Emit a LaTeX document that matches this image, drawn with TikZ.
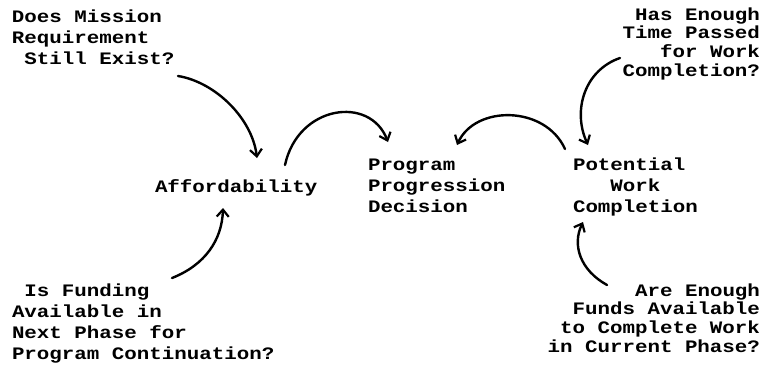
\documentclass[tikz,border=0pt]{standalone}
\usepackage{fontspec}
\newfontfamily\dotfont{Liberation Mono}[FakeStretch=1.19]
\usetikzlibrary{arrows.meta}
\tikzset{
  lbl/.style={inner sep=0pt, outer sep=0pt, font=\dotfont\bfseries\fontsize{17.5}{21}\selectfont},
  lblr/.style={lbl, font=\dotfont\bfseries\fontsize{17.5}{18.6}\selectfont},
  flow/.style={line width=2.4pt, line cap=round, -{Straight Barb[length=7pt,width=12pt,line width=2.2pt]}}
}
\begin{document}
\begin{tikzpicture}[x=1pt,y=-1pt]
\useasboundingbox (0,0) rectangle (768,368);
% questions (base = last line)
\node[lbl, anchor=base west, align=left] (q1) at (12,64) {Does Mission\\Requirement\\~Still Exist?};
\node[lblr, anchor=base east, align=right] (q2) at (760,76) {Has Enough\\Time Passed\\for Work\\Completion?};
\node[lbl, anchor=base west, align=left] (q3) at (12,359) {~Is Funding\\Available in\\Next Phase for\\Program Continuation?};
\node[lblr, anchor=base east, align=right] (q4) at (760,352) {Are Enough\\Funds Available\\to Complete Work\\in Current Phase?};
% main nodes
\node[lbl, anchor=base west] (aff) at (155,192) {Affordability};
\node[lbl, anchor=base west, align=left] (ppd) at (368,212) {Program\\Progression\\Decision};
\node[lbl, anchor=base west, align=left] (pwc) at (573,212) {Potential\\~~~Work\\Completion};
% connector end points
\coordinate (a1s) at (178,76);  \coordinate (a1e) at (257,158);
\coordinate (a2s) at (285,165); \coordinate (a2e) at (388,142);
\coordinate (a3s) at (565,149); \coordinate (a3e) at (457,145);
\coordinate (a4s) at (620,58);  \coordinate (a4e) at (588,145);
\coordinate (a5s) at (172,278); \coordinate (a5e) at (223,208);
\coordinate (a6s) at (607,285); \coordinate (a6e) at (583,222);
% connectors
\draw[flow] (a1s) .. controls (215,82) and (252,118) .. (a1e);
\draw[flow] (a2s) .. controls (298,105) and (370,95) .. (a2e);
\draw[flow] (a3s) .. controls (545,105) and (475,105) .. (a3e);
\draw[flow] (a4s) .. controls (585,70) and (572,110) .. (a4e);
\draw[flow] (a5s) .. controls (205,265) and (222,240) .. (a5e);
\draw[flow] (a6s) .. controls (580,270) and (572,245) .. (a6e);
\end{tikzpicture}
\end{document}
